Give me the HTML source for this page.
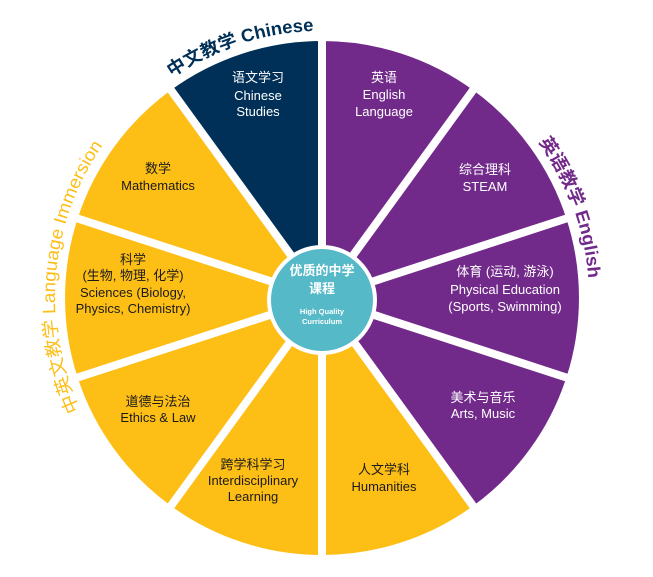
<!DOCTYPE html>
<html><head><meta charset="utf-8"><style>
html,body{margin:0;padding:0;background:#fff;}
svg{display:block;}
text{font-family:"Liberation Sans","Noto Sans CJK SC",sans-serif;}
.w{fill:#fff;font-size:13px;text-anchor:middle;}
.k{fill:#1a1a1a;font-size:13px;text-anchor:middle;}
</style></head><body>
<svg width="653" height="577" viewBox="0 0 653 577" xmlns="http://www.w3.org/2000/svg">
<defs>
<path id="pc" d="M150.4,93.5 A267,267 0 0 1 340.6,31.6"/>
<path id="pe" d="M526.5,126.4 A267,267 0 0 1 589,298"/>
<path id="pl" d="M80,410.8 A267,267 0 0 1 103.3,144.8"/>
</defs>
<g>
<path d="M322,298 L322,41 A257,257 0 0 1 473.1,90.1 Z" fill="#722A8A"/>
<path d="M322,298 L473.1,90.1 A257,257 0 0 1 566.4,218.6 Z" fill="#722A8A"/>
<path d="M322,298 L566.4,218.6 A257,257 0 0 1 566.4,377.4 Z" fill="#722A8A"/>
<path d="M322,298 L566.4,377.4 A257,257 0 0 1 473.1,505.9 Z" fill="#722A8A"/>
<path d="M322,298 L473.1,505.9 A257,257 0 0 1 322,555 Z" fill="#FDBE16"/>
<path d="M322,298 L322,555 A257,257 0 0 1 170.9,505.9 Z" fill="#FDBE16"/>
<path d="M322,298 L170.9,505.9 A257,257 0 0 1 77.6,377.4 Z" fill="#FDBE16"/>
<path d="M322,298 L77.6,377.4 A257,257 0 0 1 77.6,218.6 Z" fill="#FDBE16"/>
<path d="M322,298 L77.6,218.6 A257,257 0 0 1 170.9,90.1 Z" fill="#FDBE16"/>
<path d="M322,298 L170.9,90.1 A257,257 0 0 1 322,41 Z" fill="#003057"/>
</g>
<g stroke="#fff" stroke-width="8">
<line x1="322" y1="298" x2="322" y2="36"/>
<line x1="322" y1="298" x2="476" y2="86"/>
<line x1="322" y1="298" x2="571" y2="217"/>
<line x1="322" y1="298" x2="571" y2="379"/>
<line x1="322" y1="298" x2="476" y2="510"/>
<line x1="322" y1="298" x2="322" y2="560"/>
<line x1="322" y1="298" x2="168" y2="510"/>
<line x1="322" y1="298" x2="73" y2="379"/>
<line x1="322" y1="298" x2="73" y2="217"/>
<line x1="322" y1="298" x2="168" y2="86"/>
</g>
<circle cx="322" cy="300" r="55" fill="#fff"/>
<circle cx="322" cy="300" r="51" fill="#55B9C8"/>
<text x="322" y="275" fill="#fff" font-size="13" text-anchor="middle" font-weight="bold">优质的中学</text>
<text x="322" y="293" fill="#fff" font-size="13" text-anchor="middle" font-weight="bold">课程</text>
<text x="322" y="314" fill="#fff" font-size="7.5" text-anchor="middle" font-weight="bold">High Quality</text>
<text x="322" y="324" fill="#fff" font-size="7.5" text-anchor="middle" font-weight="bold">Curriculum</text>

<text class="w"><tspan x="258" y="82">语文学习</tspan><tspan x="258" y="100">Chinese</tspan><tspan x="258" y="116">Studies</tspan></text>
<text class="w"><tspan x="384" y="82">英语</tspan><tspan x="384" y="99">English</tspan><tspan x="384" y="116">Language</tspan></text>
<text class="w"><tspan x="485" y="174">综合理科</tspan><tspan x="485" y="191">STEAM</tspan></text>
<text class="w"><tspan x="505" y="276">体育 (运动, 游泳)</tspan><tspan x="505" y="294">Physical Education</tspan><tspan x="505" y="311">(Sports, Swimming)</tspan></text>
<text class="w"><tspan x="483" y="402">美术与音乐</tspan><tspan x="483" y="418">Arts, Music</tspan></text>
<text class="k"><tspan x="384" y="474">人文学科</tspan><tspan x="384" y="491">Humanities</tspan></text>
<text class="k"><tspan x="253" y="469">跨学科学习</tspan><tspan x="253" y="485">Interdisciplinary</tspan><tspan x="253" y="501">Learning</tspan></text>
<text class="k"><tspan x="158" y="406">道德与法治</tspan><tspan x="158" y="422">Ethics &amp; Law</tspan></text>
<text class="k"><tspan x="133" y="264">科学</tspan><tspan x="133" y="280">(生物, 物理, 化学)</tspan><tspan x="133" y="297">Sciences (Biology,</tspan><tspan x="133" y="313">Physics, Chemistry)</tspan></text>
<text class="k"><tspan x="158" y="173">数学</tspan><tspan x="158" y="190">Mathematics</tspan></text>

<text font-size="18" font-weight="bold" fill="#003057"><textPath href="#pc" startOffset="50%" text-anchor="middle" textLength="151" lengthAdjust="spacingAndGlyphs">中文教学 Chinese</textPath></text>
<text font-size="18" font-weight="bold" fill="#722A8A"><textPath href="#pe" startOffset="50%" text-anchor="middle" textLength="147" lengthAdjust="spacingAndGlyphs">英语教学 English</textPath></text>
<text font-size="18" fill="#FDBE16"><textPath href="#pl" startOffset="50%" text-anchor="middle" textLength="278" lengthAdjust="spacingAndGlyphs">中英文教学 Language Immersion</textPath></text>
</svg>
</body></html>
